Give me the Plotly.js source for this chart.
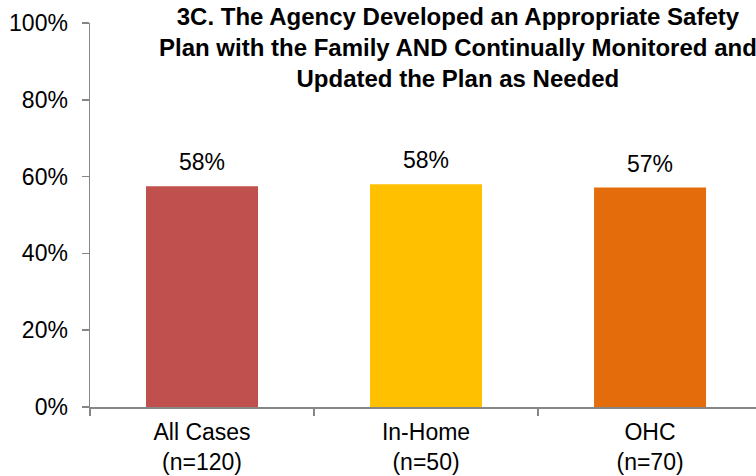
<!DOCTYPE html>
<html>
<head>
<meta charset="utf-8">
<script src="https://cdn.plot.ly/plotly-3.0.1.min.js"></script>
<style>html,body{margin:0;padding:0;background:#fff;}#chart{width:756px;height:476px;}</style>
</head>
<body>
<div id="chart"></div>
<script>
var categories = ["All Cases<br>(n=120)", "In-Home<br>(n=50)", "OHC<br>(n=70)"];
var values = [0.575, 0.58, 0.5714];
var labels = ["58%", "58%", "57%"];
var colors = ["#C0504D", "#FFC000", "#E46C0A"];
var titleText = "3C. The Agency Developed an Appropriate Safety<br>Plan with the Family AND Continually Monitored and<br>Updated the Plan as Needed";

var font = "Liberation Sans, Arial, sans-serif";
var trace = {
  type: "bar",
  x: categories,
  y: values,
  width: 0.5,
  marker: {color: colors},
  hoverinfo: "none"
};
var annotations = categories.map(function(c, i){
  return {x: c, y: values[i], xref: "x", yref: "y", text: labels[i], showarrow: false,
          yanchor: "bottom", yshift: 9, font: {family: font, size: 23, color: "#000"}};
});
annotations.push({text: titleText, xref: "paper", yref: "paper", x: 0.5533, y: 1, xanchor: "center",
  yanchor: "top", yshift: 22, showarrow: false, align: "center",
  font: {family: font, size: 24, color: "#000", weight: "bold"}});
var layout = {
  width: 756, height: 476,
  margin: {l: 90, r: 0, t: 23, b: 69, pad: 0},
  paper_bgcolor: "#fff", plot_bgcolor: "#fff",
  showlegend: false,
  xaxis: {type: "category", range: [-0.5, 2.473], tickson: "boundaries", ticks: "outside", ticklen: 7,
          tickwidth: 1.5, tickcolor: "#868686", showline: true, linecolor: "#868686", linewidth: 1.5,
          showgrid: false, zeroline: false, ticklabelstandoff: 4, tickfont: {family: font, size: 23, color: "#000"}},
  yaxis: {range: [0, 1], dtick: 0.2, tick0: 0, tickformat: ".0%", ticks: "outside", ticklen: 7,
          tickwidth: 1.5, tickcolor: "#868686", showline: true, linecolor: "#868686", linewidth: 1.5,
          showgrid: false, zeroline: false, ticklabelstandoff: 9, tickfont: {family: font, size: 23, color: "#000"}},
  annotations: annotations
};
Plotly.newPlot("chart", [trace], layout, {displayModeBar: false, staticPlot: true});
</script>
</body>
</html>
